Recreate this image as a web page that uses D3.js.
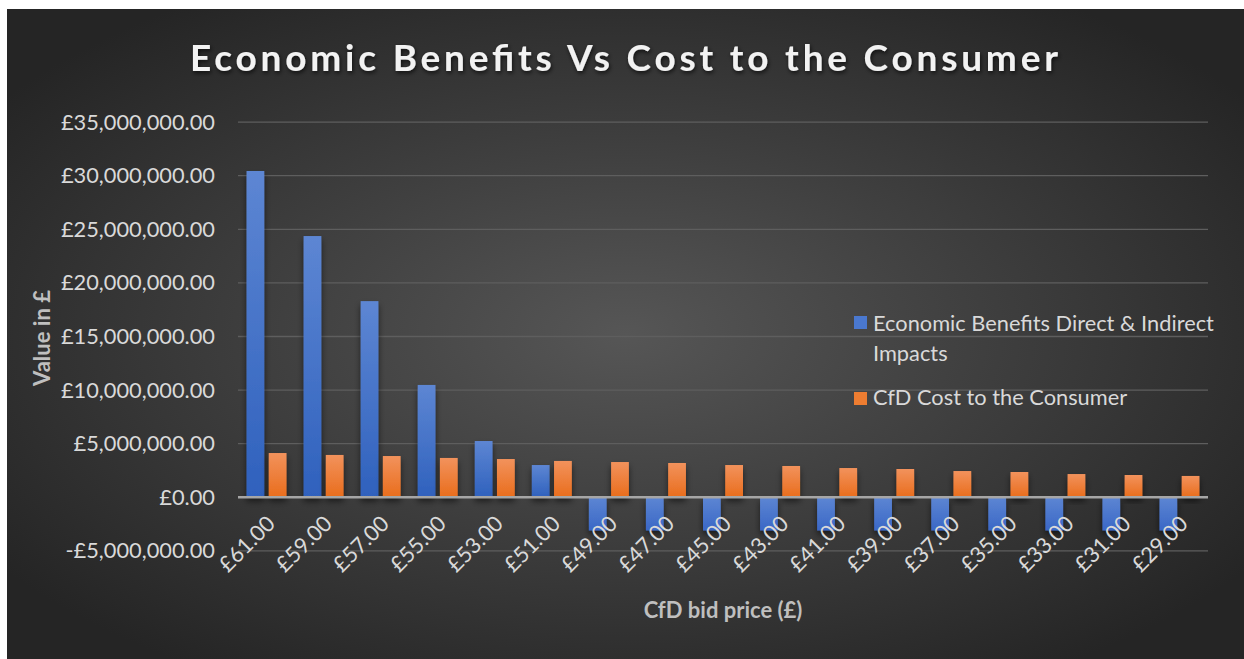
<!DOCTYPE html>
<html>
<head>
<meta charset="utf-8">
<script src="https://cdn.jsdelivr.net/npm/d3@7"></script>
<style>
  body { margin: 0; background: #fff; }
  svg { display: block; }
  text { font-family: Lato, "Open Sans", sans-serif; }
</style>
</head>
<body>
<div id="vis"></div>
<script>
'use strict'

// values
const categories = ["£61.00", "£59.00", "£57.00", "£55.00", "£53.00", "£51.00", "£49.00", "£47.00", "£45.00",
  "£43.00", "£41.00", "£39.00", "£37.00", "£35.00", "£33.00", "£31.00", "£29.00"]
const benefits = [30440000, 24370000, 18300000, 10480000, 5250000, 3010000, -3100000, -3100000, -3100000,
  -3100000, -3100000, -3100000, -3100000, -3100000, -3100000, -3100000, -3100000]
const costs = [4130000, 3950000, 3850000, 3670000, 3570000, 3390000, 3290000, 3200000, 3010000,
  2920000, 2730000, 2640000, 2450000, 2360000, 2170000, 2080000, 1990000]
const seriesNames = ["Economic Benefits Direct & Indirect Impacts", "CfD Cost to the Consumer"]
const yTicks = [-5000000, 0, 5000000, 10000000, 15000000, 20000000, 25000000, 30000000, 35000000]

function wrapper(){
  let width = 1244
  let height = 659
  let fontSize = "21.8px"

  let svg = d3.select("#vis").append("svg")
    .attr("width", width)
    .attr("height", height)

  let defs = svg.append("defs")

  let bg = defs.append("radialGradient").attr("id", "bg")
    .attr("cx", "50%").attr("cy", "50%").attr("r", "62%")
  bg.append("stop").attr("offset", "0%").attr("stop-color", "#565656")
  bg.append("stop").attr("offset", "100%").attr("stop-color", "#252525")

  let blueGrad = defs.append("linearGradient").attr("id", "blueGrad")
    .attr("x1", 0).attr("y1", 0).attr("x2", 0).attr("y2", 1)
  blueGrad.append("stop").attr("offset", "0%").attr("stop-color", "#5d86d3")
  blueGrad.append("stop").attr("offset", "100%").attr("stop-color", "#2f61bd")

  let blueNeg = defs.append("linearGradient").attr("id", "blueNeg")
    .attr("x1", 0).attr("y1", 0).attr("x2", 0).attr("y2", 1)
  blueNeg.append("stop").attr("offset", "0%").attr("stop-color", "#5d86d3")
  blueNeg.append("stop").attr("offset", "100%").attr("stop-color", "#3a67c6")

  let orangeGrad = defs.append("linearGradient").attr("id", "orangeGrad")
    .attr("x1", 0).attr("y1", 0).attr("x2", 0).attr("y2", 1)
  orangeGrad.append("stop").attr("offset", "0%").attr("stop-color", "#f2925c")
  orangeGrad.append("stop").attr("offset", "100%").attr("stop-color", "#e96d1c")

  let shadow = defs.append("filter").attr("id", "barShadow")
    .attr("x", "-50%").attr("y", "-20%").attr("width", "200%").attr("height", "150%")
  shadow.append("feDropShadow").attr("dx", 0).attr("dy", 4).attr("stdDeviation", 3)
    .attr("flood-color", "#000").attr("flood-opacity", 0.55)

  let titleShadow = defs.append("filter").attr("id", "titleShadow")
    .attr("x", "-10%").attr("y", "-50%").attr("width", "120%").attr("height", "200%")
  titleShadow.append("feDropShadow").attr("dx", 1).attr("dy", 2).attr("stdDeviation", 2)
    .attr("flood-color", "#000").attr("flood-opacity", 0.7)

  // panel
  svg.append("rect")
    .attr("x", 7).attr("y", 9)
    .attr("width", width - 7).attr("height", height - 9)
    .attr("fill", "url(#bg)")

  let x = d3.scaleBand()
    .domain(categories)
    .range([238, 1208])
    .paddingInner(0.299)
    .paddingOuter(0.1495)

  let xSub = d3.scaleBand()
    .domain([0, 1])
    .range([0, x.bandwidth()])
    .paddingInner(0.2)

  let y = d3.scaleLinear()
    .domain([-5000000, 35000000])
    .range([550.9, 122.1])

  let fmt = d3.format(",.2f")
  let money = function(d){
    return d < 0 ? "-£" + fmt(-d) : "£" + fmt(d)
  }

  // gridlines
  svg.append("g").selectAll("line")
    .data(yTicks.filter(d => d != 0))
    .join("line")
    .attr("x1", 238).attr("x2", 1208)
    .attr("y1", d => y(d)).attr("y2", d => y(d))
    .attr("stroke", "#5e5e5e")
    .attr("stroke-width", 1.3)

  // y axis labels
  let yAxis = svg.append("g")
    .attr("transform", "translate(230,0)")
    .call(d3.axisLeft(y).tickValues(yTicks).tickFormat(money).tickSize(0).tickPadding(15))
  yAxis.select(".domain").remove()
  yAxis.selectAll("text")
    .attr("fill", "#d9d9d9")
    .style("font-size", fontSize)
    .style("font-family", "Lato, 'Open Sans', sans-serif")

  // bars
  let groups = svg.append("g").selectAll("g")
    .data(categories)
    .join("g")
    .attr("transform", d => "translate(" + x(d) + ",0)")

  groups.append("rect")
    .attr("x", xSub(0))
    .attr("width", xSub.bandwidth())
    .attr("y", (d, i) => y(Math.max(0, benefits[i])))
    .attr("height", (d, i) => Math.abs(y(benefits[i]) - y(0)))
    .attr("fill", (d, i) => benefits[i] < 0 ? "url(#blueNeg)" : "url(#blueGrad)")
    .attr("filter", "url(#barShadow)")

  groups.append("rect")
    .attr("x", xSub(1))
    .attr("width", xSub.bandwidth())
    .attr("y", (d, i) => y(Math.max(0, costs[i])))
    .attr("height", (d, i) => Math.abs(y(costs[i]) - y(0)))
    .attr("fill", "url(#orangeGrad)")
    .attr("filter", "url(#barShadow)")

  // zero axis line
  svg.append("line")
    .attr("x1", 238).attr("x2", 1208)
    .attr("y1", y(0)).attr("y2", y(0))
    .attr("stroke", "#a6a6a6")
    .attr("stroke-width", 2.5)

  // x labels, rotated
  svg.append("g").selectAll("text")
    .data(categories)
    .join("text")
    .attr("transform", d => "translate(" + (x(d) + x.bandwidth() / 2 - 1) + "," + (y(0) + 17) + ") rotate(-45)")
    .attr("text-anchor", "end")
    .attr("dy", "0.7em")
    .attr("fill", "#d9d9d9")
    .style("font-size", fontSize)
    .text(d => d)

  // title
  svg.append("text")
    .attr("x", 624)
    .attr("y", 71)
    .attr("text-anchor", "middle")
    .attr("fill", "#f2f2f2")
    .attr("filter", "url(#titleShadow)")
    .style("font-size", "37px")
    .style("font-weight", "bold")
    .attr("textLength", 868)
    .attr("lengthAdjust", "spacing")
    .text("Economic Benefits Vs Cost to the Consumer")

  // axis titles
  svg.append("text")
    .attr("x", 723)
    .attr("y", 618)
    .attr("text-anchor", "middle")
    .attr("fill", "#bfbfbf")
    .style("font-size", "22px")
    .style("font-weight", "bold")
    .text("CfD bid price (£)")

  svg.append("text")
    .attr("transform", "translate(50,338) rotate(-90)")
    .attr("text-anchor", "middle")
    .attr("fill", "#bfbfbf")
    .style("font-size", "22px")
    .style("font-weight", "bold")
    .text("Value in £")

  // legend
  let legend = svg.append("g")
  legend.append("rect")
    .attr("x", 854).attr("y", 316).attr("width", 13).attr("height", 13)
    .attr("fill", "#4a78cf")
  legend.append("text")
    .attr("x", 873).attr("y", 331)
    .attr("fill", "#d9d9d9")
    .style("font-size", fontSize)
    .text("Economic Benefits Direct & Indirect")
  legend.append("text")
    .attr("x", 873).attr("y", 361)
    .attr("fill", "#d9d9d9")
    .style("font-size", fontSize)
    .text("Impacts")
  legend.append("rect")
    .attr("x", 854).attr("y", 392).attr("width", 13).attr("height", 13)
    .attr("fill", "#ee7d31")
  legend.append("text")
    .attr("x", 873).attr("y", 405)
    .attr("fill", "#d9d9d9")
    .style("font-size", fontSize)
    .text(seriesNames[1])
}

wrapper()
</script>
</body>
</html>
